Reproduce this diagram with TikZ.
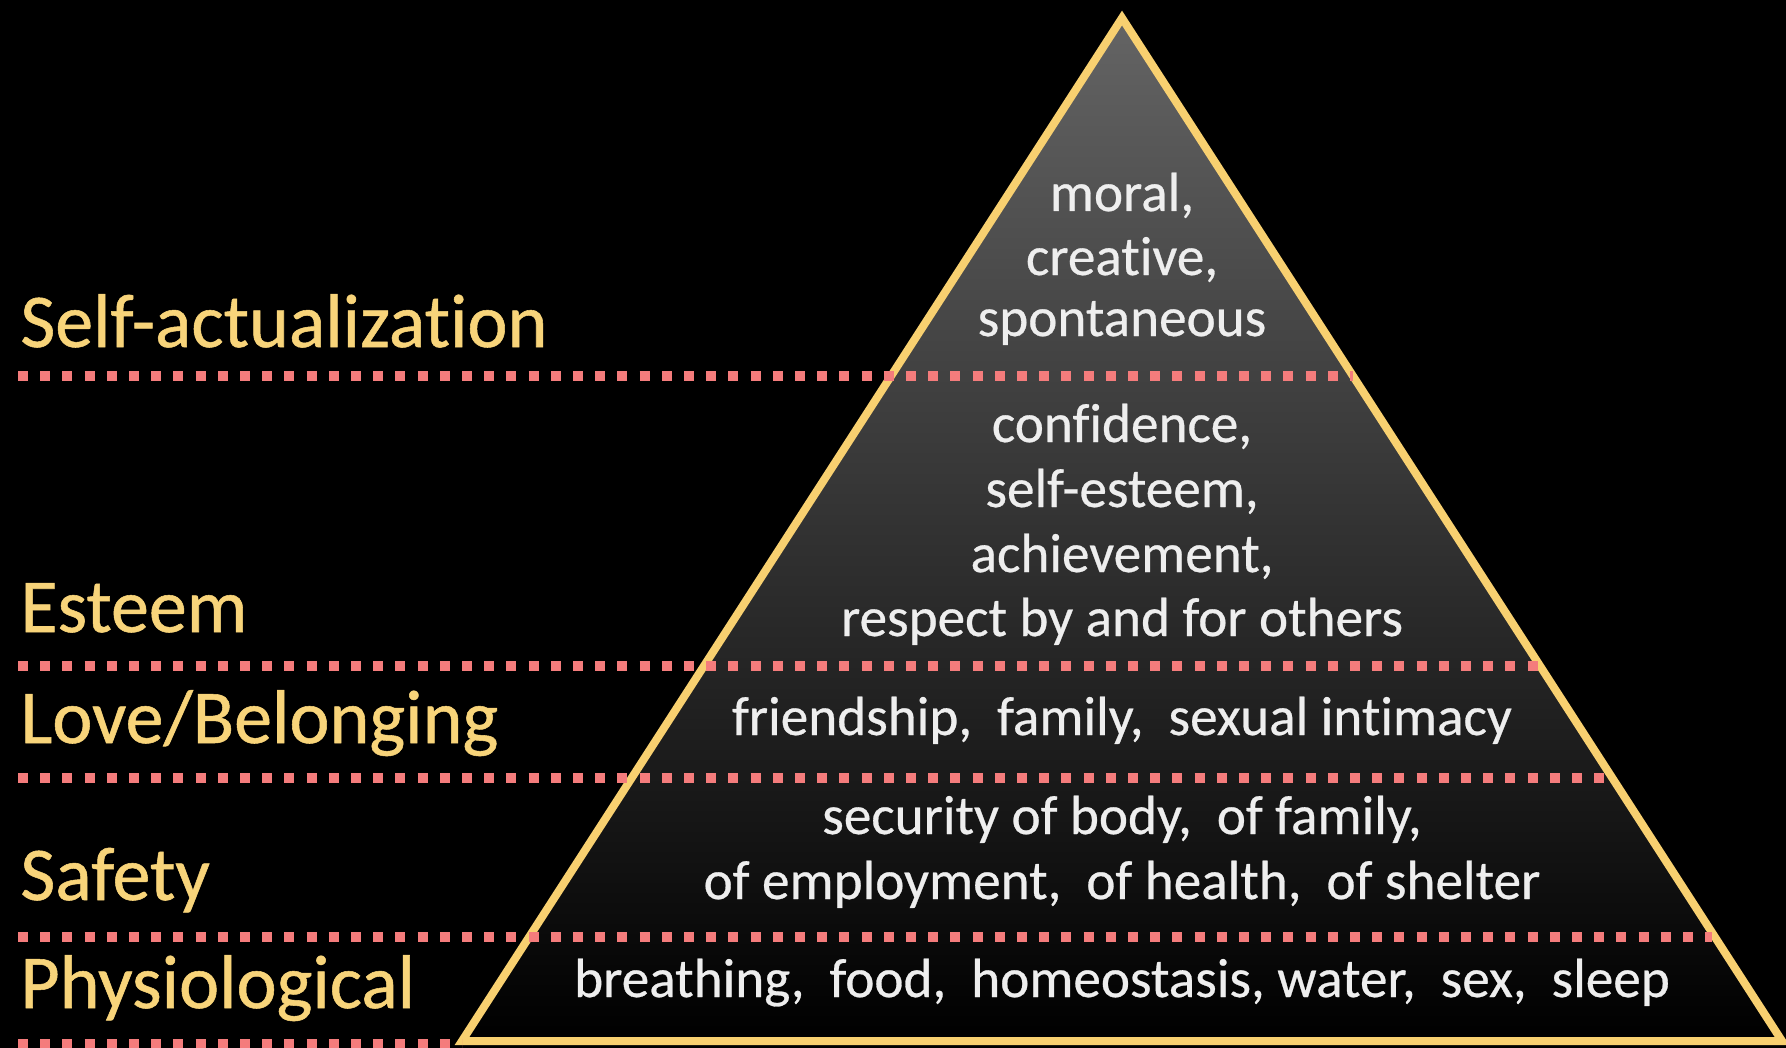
\documentclass[tikz,border=0pt]{standalone}
\usepackage{fontspec}
\setmainfont{Carlito}[Ligatures=NoCommon]
\newfontfamily\lblfont{Carlito}[Ligatures=NoCommon,FakeBold=0.7]
\newfontfamily\trifont{Carlito}[Ligatures=NoCommon,FakeBold=0.5]
\definecolor{labelyellow}{RGB}{248,212,122}
\definecolor{edgeyellow}{RGB}{248,208,112}
\definecolor{dotpink}{RGB}{244,124,124}
\definecolor{textgrey}{RGB}{238,238,238}
\definecolor{topgrey}{RGB}{100,100,100}
\begin{document}
\begin{tikzpicture}[x=0.5pt,y=-0.5pt,
  lbl/.style={anchor=base west, text=labelyellow, font=\lblfont\fontsize{38}{40}\selectfont, inner sep=0pt},
  tri/.style={anchor=base, text=textgrey, font=\trifont\fontsize{27.6}{32}\selectfont, inner sep=0pt},
  dots/.style={draw=dotpink, line width=5pt, dash pattern=on 5pt off 6.1pt},
  edgeline/.style={draw=edgeyellow, line width=4pt, line join=miter}]
\useasboundingbox (0,0) rectangle (1786,1048);
\fill[black] (0,0) rectangle (1786,1048);
\coordinate (apex) at (1122,18);
\coordinate (bl) at (462,1041);
\coordinate (br) at (1782,1041);
\shade[top color=topgrey, bottom color=black] (apex) -- (bl) -- (br) -- cycle;
\draw[edgeline] (apex) -- (bl) -- (br) -- cycle;
% dotted separators
\coordinate (d1l) at (18,376);  \coordinate (d1r) at (1353,376);
\coordinate (d2l) at (18,666);  \coordinate (d2r) at (1540,666);
\coordinate (d3l) at (18,778);  \coordinate (d3r) at (1612,778);
\coordinate (d4l) at (18,937);  \coordinate (d4r) at (1712,937);
\coordinate (d5l) at (18,1044); \coordinate (d5r) at (462,1044);
\draw[dots] (d1l) -- (d1r);
\draw[dots] (d2l) -- (d2r);
\draw[dots] (d3l) -- (d3r);
\draw[dots] (d4l) -- (d4r);
\draw[dots] (d5l) -- (d5r);
% left labels
\node[lbl] (l1) at (20,347) {Self-actualization};
\node[lbl] (l2) at (20,632) {Esteem};
\node[lbl] (l3) at (20,743) {Love/Belonging};
\node[lbl] (l4) at (20,900) {Safety};
\node[lbl] (l5) at (20,1008) {Physiological};
% triangle texts
\node[tri] (t1a) at (1122,211) {moral,};
\node[tri] (t1b) at (1122,275) {creative,};
\node[tri] (t1c) at (1122,336) {spontaneous};
\node[tri] (t2a) at (1122,442) {confidence,};
\node[tri] (t2b) at (1122,507) {self-esteem,};
\node[tri] (t2c) at (1122,572) {achievement,};
\node[tri] (t2d) at (1122,636) {respect by and for others};
\node[tri] (t3) at (1122,735) {friendship,~ family,~ sexual intimacy};
\node[tri] (t4a) at (1122,834) {security of body,~ of family,};
\node[tri] (t4b) at (1122,899) {of employment,~ of health,~ of shelter};
\node[tri] (t5) at (1122,997) {breathing,~ food,~ homeostasis, water,~ sex,~ sleep};
\end{tikzpicture}
\end{document}
